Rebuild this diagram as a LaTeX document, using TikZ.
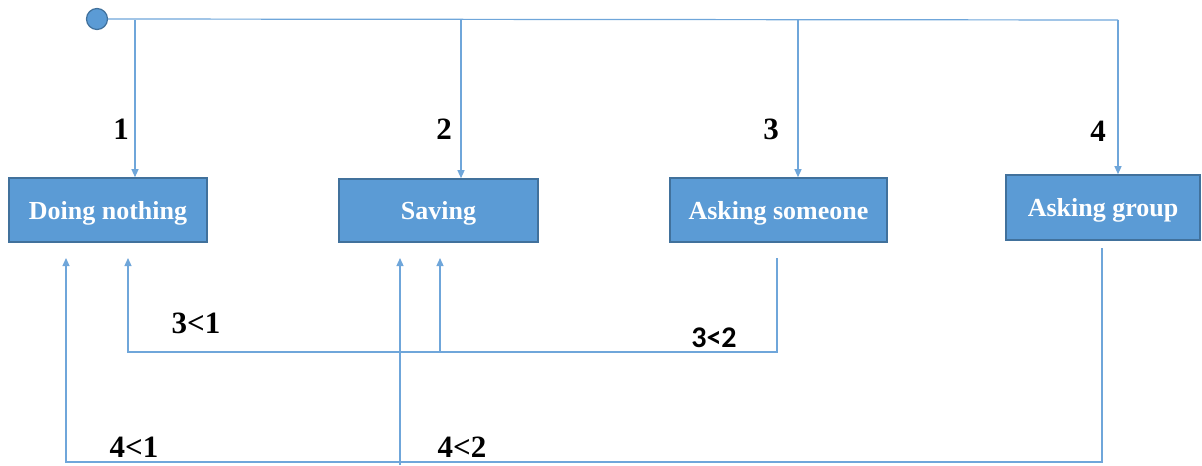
\documentclass[tikz,border=0pt]{standalone}
\usepackage{fontspec}
\setmainfont{Liberation Serif}
\newfontfamily\lblsans{Carlito}
\usetikzlibrary{positioning,arrows.meta}
\definecolor{boxfill}{HTML}{5B9BD5}
\definecolor{boxline}{HTML}{41719C}
\definecolor{flowline}{HTML}{6FA6DA}
\tikzset{
	state/.style={rectangle,draw=boxline,line width=0.8pt,fill=boxfill,text=white,inner sep=0pt,
		text depth=0pt,font=\fontsize{13}{15}\selectfont\bfseries},
	flow/.style={draw=flowline,line width=0.6pt},
	tip/.style={flow,-{Triangle[length=4pt,width=3.5pt]}},
	num/.style={font=\fontsize{15.5}{17}\selectfont\bfseries}
}
\begin{document}
\begin{tikzpicture}[x=0.5pt,y=-0.5pt]
		\useasboundingbox (0,0) rectangle (1202,465);
		% start point and the four states
		\node (start) [circle,draw=boxline,fill=boxfill,line width=0.6pt,minimum size=10.5pt,inner sep=0pt] at (97,19) {};
		\node (nothing) [state,minimum width=99pt,minimum height=32pt] at (108,210) {Doing nothing};
		\node (saving) [state,minimum width=99.5pt,minimum height=31.5pt] at (438.5,210.5) {Saving};
		\node (someone) [state,minimum width=108.5pt,minimum height=32pt] at (778.5,210) {Asking someone};
		\node (group) [state,minimum width=97pt,minimum height=32.5pt] at (1103,207.5) {Asking group};
		% top branch
		\coordinate (t1) at (135,20);
		\coordinate (t2) at (461,20);
		\coordinate (t3) at (798,20);
		\coordinate (t4) at (1118,20);
		\draw[flow] (start.east) -- (t4);
		\draw[tip] (t1) -- (t1 |- nothing.north);
		\draw[tip] (t2) -- (t2 |- saving.north);
		\draw[tip] (t3) -- (t3 |- someone.north);
		\draw[tip] (t4) -- (t4 |- group.north);
		\node[num] at (121,129) {1};
		\node[num] at (444,129) {2};
		\node[num] at (771,129) {3};
		\node[num] at (1098,131) {4};
		% feedback from asking someone
		\coordinate (s3) at (777,258);
		\coordinate (r31) at (128,258);
		\coordinate (r32) at (440,258);
		\draw[tip] (s3) -- (777,352) -- (128,352) -- (r31);
		\draw[tip] (440,352) -- (r32);
		\node[num] at (196,323) {3<1};
		\node[font=\fontsize{15}{17}\selectfont\lblsans\bfseries] at (714,338) {3<2};
		% feedback from asking group
		\coordinate (s4) at (1102,248);
		\coordinate (r41) at (66,258);
		\coordinate (r42) at (400,258);
		\draw[tip] (s4) -- (1102,462) -- (66,462) -- (r41);
		\draw[tip] (400,465) -- (r42);
		\node[num] at (134,447) {4<1};
		\node[num] at (462,447) {4<2};
\end{tikzpicture}
\end{document}
